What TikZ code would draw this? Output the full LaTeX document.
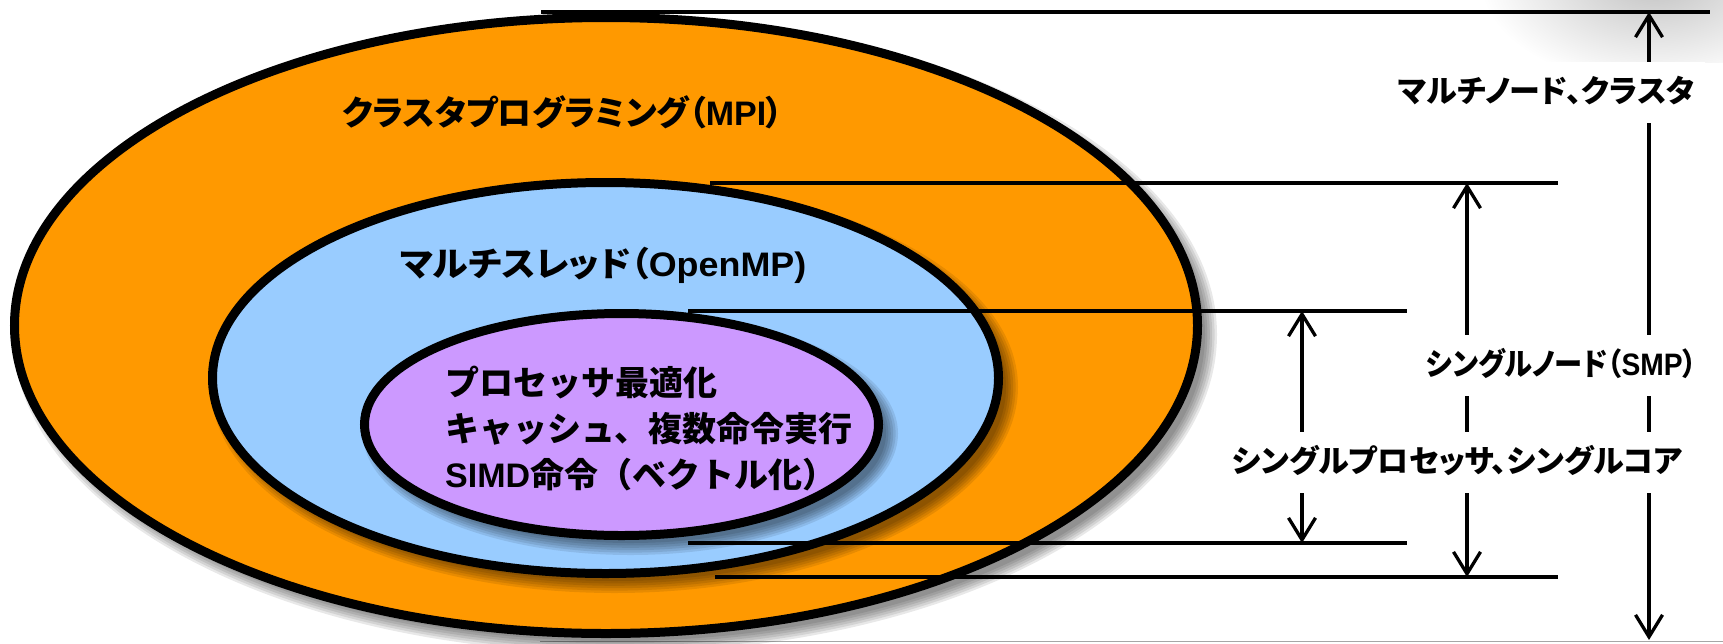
\documentclass[tikz,border=0pt]{standalone}
\usepackage{fontspec}
\newfontfamily\jpf{Noto Sans CJK JP}[RawFeature=+palt]
\newfontfamily\jpm{Noto Sans CJK JP}
\newfontfamily\latf{Liberation Sans}
\usetikzlibrary{arrows.meta}
\definecolor{orangeF}{HTML}{FF9900}
\definecolor{blueF}{HTML}{99CCFF}
\definecolor{purpleF}{HTML}{CC99FF}
\newcommand\latn[1]{{\latf\bfseries #1}}
\newcommand\softshadow[4]{%
  \foreach \k in {0,...,5}{%
    \fill[black,opacity=0.09] ({#1+9},{#2+9}) ellipse [x radius={#3pt+10.5pt-2.4pt*\k}, y radius={#4pt+10.5pt-2.4pt*\k}];}}
\begin{document}
\begin{tikzpicture}[x=1pt,y=-1pt,
  ringline/.style={draw=black,line width=9pt},
  guide/.style={draw=black,line width=3.3pt},
  dimarrow/.style={draw=black,line width=3.3pt,{Straight Barb[length=22pt,width=27pt]}-{Straight Barb[length=22pt,width=27pt]}},
  ringlabel/.style={font=\jpf\bfseries\fontsize{34}{46}\selectfont,inner sep=0pt,anchor=west},
  sidelabel/.style={font=\jpf\bfseries\fontsize{31}{37}\selectfont,fill=white,anchor=west,inner xsep=10pt,inner ysep=16pt,text height=25pt,text depth=4pt}]
\useasboundingbox (0,0) rectangle (1723,643);
% soft gray blob top right
\begin{scope}
\clip (1300,0) rectangle (1723,62);
\shade[inner color=black!24,outer color=white] (1655,-20) ellipse [x radius=175pt, y radius=105pt];
\end{scope}
\draw[black!35,line width=1.5pt] (540,641.5) -- (1723,641.5);
% outer ellipse
\softshadow{606}{325.5}{591.5}{308}
\path[ringline,fill=orangeF] (606,325.5) ellipse [x radius=591.5pt, y radius=308pt];
% middle ellipse
\softshadow{605.5}{378}{393}{195.5}
\path[ringline,fill=blueF] (605.5,378) ellipse [x radius=393pt, y radius=195.5pt];
% inner ellipse
\softshadow{621.5}{424.5}{257}{111}
\path[ringline,fill=purpleF] (621.5,424.5) ellipse [x radius=257pt, y radius=111pt];
% labels in ellipses
\node[ringlabel] (mpi) at (342,112) {クラスタプログラミング（\latn{MPI}）};
\node[ringlabel] (omp) at (400,265) {\scalebox{1.055}[1]{マルチスレッド（\latn{OpenMP)}}};
\node[ringlabel,align=left,font=\jpm\bfseries\fontsize{34}{46}\selectfont] (proc) at (445,429) {プロセッサ最適化\\キャッシュ、複数命令実行\\\latn{SIMD}命令（ベクトル化）};
% guide lines
\coordinate (L1a) at (541,12);  \coordinate (L1b) at (1710,12);
\coordinate (L2a) at (710,183); \coordinate (L2b) at (1558,183);
\coordinate (L3a) at (688,311); \coordinate (L3b) at (1407,311);
\coordinate (L4a) at (688,543); \coordinate (L4b) at (1407,543);
\coordinate (L5a) at (715,577); \coordinate (L5b) at (1558,577);
\draw[guide] (L1a) -- (L1b);
\draw[guide] (L2a) -- (L2b);
\draw[guide] (L3a) -- (L3b);
\draw[guide] (L4a) -- (L4b);
\draw[guide] (L5a) -- (L5b);
% dimension arrows
\coordinate (Rt) at (1649,12);  \coordinate (Rb) at (1649,640);
\coordinate (Mt) at (1467,183); \coordinate (Mb) at (1467,577);
\coordinate (St) at (1302,311); \coordinate (Sb) at (1302,543);
\draw[dimarrow] (Rt) -- (Rb);
\draw[dimarrow] (Mt) -- (Mb);
\draw[dimarrow] (St) -- (Sb);
% side labels
\node[sidelabel] (lab1) at (1388,92) {マルチノード、クラスタ};
\node[sidelabel] (lab2) at (1416,365) {\scalebox{0.91}[1]{シングルノード（\latn{SMP}）}};
\node[sidelabel] (lab3) at (1222,462) {シングルプロセッサ、シングルコア};
\end{tikzpicture}
\end{document}
